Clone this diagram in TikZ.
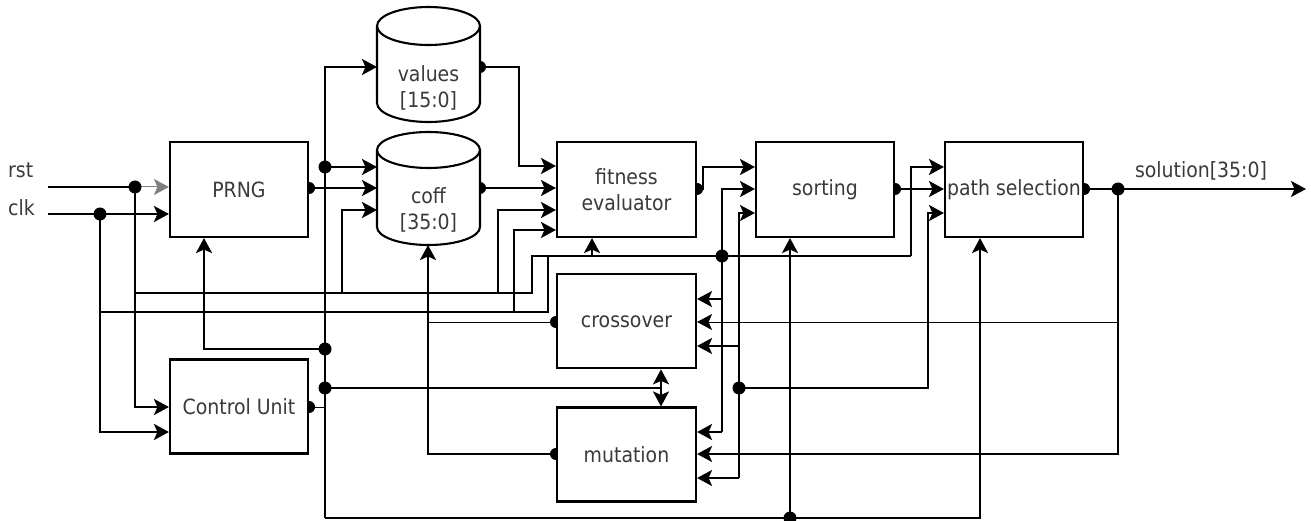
\documentclass[tikz,border=0pt]{standalone}
\usepackage{fontspec}
\setmainfont{DejaVu Sans Condensed}
\usetikzlibrary{arrows.meta,calc}
\definecolor{txt}{RGB}{58,58,58}
\pgfdeclarelayer{bg}
\pgfsetlayers{bg,main}
\newcommand{\mycyl}[5]{%
  \pgfmathsetmacro\cylrx{(#3-#1)/2}%
  \draw[boxline, fill=white] (#1,#2+#5) -- (#1,#4-#5)
    arc[start angle=180,end angle=360,x radius=\cylrx pt,y radius=#5pt]
    -- (#3,#2+#5)
    arc[start angle=0,end angle=180,x radius=\cylrx pt,y radius=#5pt] -- cycle;
  \draw[boxline] (#1,#2+#5) arc[start angle=180,end angle=360,x radius=\cylrx pt,y radius=#5pt];
}
\begin{document}
\begin{tikzpicture}[x=1pt,y=-1pt,
  boxline/.style={line width=2.1pt},
  box/.style={draw, fill=white, line width=2.1pt, minimum width=138pt, minimum height=95pt,
    inner sep=0pt, font=\fontsize{21}{26.5}\selectfont, text=txt, align=center},
  ghost/.style={inner sep=0pt, outer sep=0pt},
  lab/.style={inner sep=0pt, font=\fontsize{21}{26.5}\selectfont, text=txt, align=center},
  wire/.style={line width=2.3pt},
  thinw/.style={line width=1pt},
  tip/.tip={Stealth[length=15pt,width=16pt,inset=3.5pt]},
  arr/.style={-tip},
  darr/.style={tip-tip}
]
\useasboundingbox (0,0) rectangle (1311,521);

% ---- cylinders (stores) ----
\mycyl{377}{7}{480}{122}{19}
\mycyl{377}{132}{480}{245}{18}
\node[ghost, minimum width=103pt, minimum height=115pt] (values) at (428.5,64.5) {};
\node[ghost, minimum width=103pt, minimum height=113pt] (coff) at (428.5,188.5) {};
\node[lab] (valuesT) at (428.5,88) {values\\{[15:0]}};
\node[lab] (coffT) at (428.5,210) {coff\\{[35:0]}};

% ---- boxes ----
\node[box] (prng) at (239,189.5) {PRNG};
\node[box, minimum height=94pt] (cu) at (239,406.5) {Control Unit};
\node[box, minimum width=139pt] (fit) at (626.5,189.5) {fitness\\evaluator};
\node[box] (sort) at (825,189.5) {sorting};
\node[box] (path) at (1014,189.5) {path selection};
\node[box, minimum width=139pt, minimum height=94pt] (cross) at (626.5,321.3) {crossover};
\node[box, minimum width=139pt, minimum height=94pt] (mut) at (626.5,454.5) {mutation};

% ---- labels ----
\node[lab, anchor=base west] (rstL) at (8,177.5) {rst};
\node[lab, anchor=base west] (clkL) at (8,216) {clk};
\node[lab, anchor=base] (solL) at (1201,178) {solution[35:0]};

% ---- junction coordinates ----
\coordinate (rstIn) at (48,187);
\coordinate (clkIn) at (48,214);
\coordinate (jR) at (135,187);
\coordinate (jC) at (100,214);
\coordinate (jB1) at (325,167);
\coordinate (jB2) at (325,349);
\coordinate (jB3) at (325,388);
\coordinate (jF) at (722,256);
\coordinate (jS) at (739,388);
\coordinate (jBot) at (790,518);
\coordinate (jOut) at (1118,189);
\coordinate (solEnd) at (1306,189);

\begin{pgfonlayer}{bg}
% rst
\draw[wire] (rstIn) -- (jR);
\draw[thinw, draw=gray, arr] (jR) -- (prng.west |- jR);
\draw[wire, arr] (jR) -- (135,407) -- (cu.west |- 0,407);
\draw[wire] (135,293) -- (531.7,293) -- (531.7,256) -- (911,256);
\draw[wire, arr] (911,256) -- (911,167) -- (path.west |- 0,167);
\draw[wire, arr] (342,293) -- (342,210) -- (coff.west |- 0,210);
\draw[wire, arr] (498,293) -- (498,210) -- (fit.west |- 0,210);
\draw[wire, arr] (592,256) -- (fit.south -| 592,0);
% clk
\draw[wire, arr] (clkIn) -- (prng.west |- clkIn);
\draw[wire, arr] (jC) -- (100,432) -- (cu.west |- 0,432);
\draw[wire] (100,312) -- (548,312) -- (548,256);
\draw[wire, arr] (514,312) -- (514,230) -- (fit.west |- 0,230);
% control bus x=325
\draw[wire, arr] (325,518) -- (325,67) -- (values.west |- 0,67);
\draw[wire, arr] (jB1) -- (coff.west |- jB1);
\draw[wire, arr] (jB2) -- (204,349) -- (prng.south -| 204,0);
\draw[wire] (jB3) -- (661,388);
\draw[wire, arr] (325,518) -- (980,518) -- (path.south -| 980,0);
\draw[wire, arr] (jBot) -- (sort.south -| jBot);
\draw[thinw] (cu.east |- 0,407) -- (325,407);
% data path
\draw[wire, arr] (prng.east |- 0,188) -- (coff.west |- 0,188);
\draw[wire, arr] (values.east |- 0,67) -- (519,67) -- (519,166) -- (fit.west |- 0,166);
\draw[wire, arr] (coff.east |- 0,188) -- (fit.west |- 0,188);
\draw[wire, arr] (fit.east |- 0,189) -- (703,189) -- (703,167) -- (sort.west |- 0,167);
\draw[wire, arr] (722,432) -- (722,189) -- (sort.west |- 0,189);
\draw[wire, arr] (722,299) -- (cross.east |- 0,299);
\draw[wire, arr] (722,432) -- (mut.east |- 0,432);
\draw[wire, arr] (739,478) -- (739,213) -- (sort.west |- 0,213);
\draw[wire, arr] (739,346) -- (cross.east |- 0,346);
\draw[wire, arr] (739,478) -- (mut.east |- 0,478);
\draw[wire, arr] (jS) -- (928,388) -- (928,213) -- (path.west |- 0,213);
\draw[wire, arr] (sort.east |- 0,189) -- (path.west |- 0,189);
\draw[wire, arr] (path.east |- 0,189) -- (solEnd);
\draw[wire, arr] (jOut) -- (1118,454) -- (mut.east |- 0,454);
\draw[thinw, arr] (1118,322) -- (cross.east |- 0,322);
\draw[thinw] (cross.west |- 0,322) -- (428,322);
\draw[wire, arr] (mut.west |- 0,454) -- (428,454) -- (coff.south -| 428,0);
\draw[wire, darr] (cross.south -| 661,0) -- (mut.north -| 661,0);
% port dots (half hidden by boxes)
\foreach \p in {(prng.east |- 0,188), (cu.east |- 0,407), (values.east |- 0,67),
  (coff.east |- 0,188), (fit.east |- 0,189), (sort.east |- 0,189), (path.east |- 0,189),
  (cross.west |- 0,322), (mut.west |- 0,454)}
  \fill \p circle[radius=6pt];
\end{pgfonlayer}

% junction dots
\foreach \c in {jR,jC,jB1,jB2,jB3,jF,jS,jBot,jOut}
  \fill (\c) circle[radius=6.5pt];
\end{tikzpicture}
\end{document}
